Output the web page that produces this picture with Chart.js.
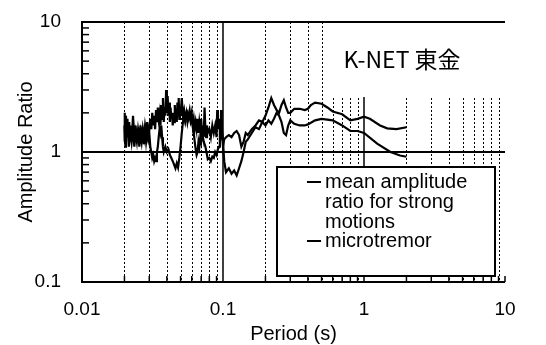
<!DOCTYPE html>
<html>
<head>
<meta charset="utf-8">
<script src="https://cdn.jsdelivr.net/npm/chart.js@4/dist/chart.umd.min.js"></script>
<style>
    html, body { margin: 0; padding: 0; background: #fff; }
</style>
</head>
<body>
<canvas id="chart" width="546" height="345"></canvas>
<script>
// Periodo (s) y cociente de amplitud.
const periodStrong = [
    0.0200, 0.0201, 0.0203, 0.0205, 0.0207, 0.0210, 0.0213, 0.0216, 0.0220, 0.0223,
    0.0227, 0.0230, 0.0235, 0.0240, 0.0245, 0.0250, 0.0255, 0.0260, 0.0265, 0.0270,
    0.0275, 0.0280, 0.0285, 0.0290, 0.0295, 0.0300, 0.0305, 0.0310, 0.0315, 0.0320,
    0.0325, 0.0330, 0.0335, 0.0340, 0.0345, 0.0350, 0.0355, 0.0360, 0.0365, 0.0370,
    0.0375, 0.0380, 0.0385, 0.0390, 0.0395, 0.0400, 0.0405, 0.0410, 0.0415, 0.0420,
    0.0425, 0.0430, 0.0435, 0.0440, 0.0445, 0.0450, 0.0455, 0.0460, 0.0465, 0.0470,
    0.0475, 0.0480, 0.0485, 0.0490, 0.0495, 0.050, 0.051, 0.052, 0.053, 0.054,
    0.055, 0.056, 0.057, 0.058, 0.059, 0.060, 0.061, 0.062, 0.063, 0.064,
    0.065, 0.066, 0.067, 0.068, 0.069, 0.070, 0.071, 0.072, 0.073, 0.074,
    0.075, 0.076, 0.077, 0.078, 0.080, 0.082, 0.084, 0.086, 0.088, 0.090,
    0.091, 0.092, 0.094, 0.096, 0.098, 0.100, 0.102, 0.105, 0.110, 0.115,
    0.120, 0.125, 0.130, 0.135, 0.140, 0.145, 0.150, 0.160, 0.170, 0.180,
    0.190, 0.200, 0.210, 0.220, 0.230, 0.240, 0.250, 0.260, 0.270, 0.280,
    0.290, 0.300, 0.320, 0.350, 0.380, 0.400, 0.420, 0.450, 0.500, 0.550,
    0.600, 0.700, 0.800, 0.900, 1.000, 1.100, 1.300, 1.460, 1.700, 2.000];
const ampStrong = [
    1.2, 2.0, 1.1, 1.9, 1.4, 1.8, 1.3, 1.7, 1.2, 1.6,
    1.4, 1.9, 1.3, 1.6, 1.2, 1.5, 1.3, 1.6, 1.2, 1.5,
    1.3, 1.6, 1.4, 1.7, 1.3, 1.5, 1.8, 1.5, 2.0, 1.6,
    1.9, 1.5, 2.1, 1.7, 2.2, 1.8, 2.0, 1.6, 2.3, 1.8,
    2.6, 1.7, 2.2, 1.9, 3.0, 2.0, 2.7, 1.9, 2.4, 1.7,
    2.2, 1.8, 2.0, 1.6, 1.9, 1.7, 2.3, 1.8, 2.1, 1.7,
    2.4, 1.9, 2.6, 1.8, 2.2, 1.9, 2.6, 1.9, 2.1, 1.8,
    2.0, 1.7, 1.9, 2.1, 1.8, 2.0, 1.6, 1.8, 1.5, 1.7,
    1.5, 1.8, 1.4, 1.7, 1.5, 1.8, 1.4, 1.6, 1.3, 2.2,
    1.5, 1.3, 1.6, 1.4, 1.5, 1.3, 1.6, 1.4, 1.6, 1.3,
    2.1, 1.5, 1.8, 1.3, 1.5, 1.1, 1.25, 1.3, 1.35, 1.3,
    1.4, 1.45, 1.35, 1.1, 1.2, 1.4, 1.35, 1.5, 1.6, 1.75,
    1.7, 1.9, 2.2, 2.6, 2.3, 2.1, 2.0, 2.3, 2.5, 2.2,
    2.0, 2.0, 2.15, 2.15, 2.1, 2.15, 2.3, 2.4, 2.35, 2.2,
    2.05, 1.95, 1.75, 1.8, 1.87, 1.8, 1.6, 1.52, 1.5, 1.55];

const periodMicro = [
    0.0200, 0.0202, 0.0204, 0.0206, 0.0210, 0.0215, 0.0220, 0.0225, 0.0230, 0.0235,
    0.0240, 0.0245, 0.0250, 0.0255, 0.0260, 0.0265, 0.0270, 0.0275, 0.0280, 0.0285,
    0.0290, 0.0295, 0.0300, 0.0305, 0.0310, 0.0315, 0.0320, 0.0325, 0.0330, 0.0335,
    0.0340, 0.0345, 0.0350, 0.0355, 0.0360, 0.0365, 0.0370, 0.0375, 0.0380, 0.0390,
    0.040, 0.041, 0.042, 0.043, 0.044, 0.045, 0.046, 0.047, 0.048, 0.049,
    0.050, 0.051, 0.052, 0.053, 0.054, 0.055, 0.056, 0.057, 0.058, 0.059,
    0.060, 0.061, 0.062, 0.063, 0.064, 0.065, 0.066, 0.067, 0.068, 0.069,
    0.070, 0.071, 0.072, 0.073, 0.075, 0.077, 0.078, 0.080, 0.082, 0.084,
    0.086, 0.088, 0.090, 0.092, 0.094, 0.095, 0.096, 0.097, 0.098, 0.100,
    0.102, 0.105, 0.110, 0.115, 0.120, 0.125, 0.130, 0.135, 0.140, 0.145,
    0.150, 0.160, 0.170, 0.180, 0.190, 0.200, 0.210, 0.220, 0.230, 0.240,
    0.250, 0.260, 0.270, 0.280, 0.290, 0.300, 0.320, 0.350, 0.380, 0.400,
    0.450, 0.500, 0.600, 0.700, 0.800, 0.900, 1.000, 1.240, 1.540, 1.800,
    2.000];
const ampMicro = [
    1.6, 1.2, 1.9, 1.3, 1.6, 1.1, 1.5, 1.2, 1.5, 1.1,
    1.4, 1.2, 1.5, 1.1, 1.4, 1.2, 1.45, 1.15, 1.5, 1.2,
    1.4, 1.25, 1.4, 1.1, 1.0, 0.9, 0.95, 0.85, 0.9, 0.85,
    1.0, 1.1, 1.3, 1.5, 1.4, 1.6, 1.3, 1.1, 1.0, 1.1,
    1.0, 1.05, 0.95, 0.9, 0.85, 0.8, 0.75, 0.82, 0.76, 0.9,
    1.1, 1.4, 1.7, 1.9, 1.7, 1.9, 2.0, 1.8, 1.9, 1.7,
    1.8, 1.6, 1.4, 1.2, 1.05, 0.95, 1.0, 1.2, 1.1, 1.3,
    1.2, 1.4, 1.3, 1.2, 1.1, 0.95, 0.88, 0.9, 0.85, 0.92,
    0.9, 1.0, 0.95, 1.05, 1.1, 1.5, 1.3, 2.1, 1.5, 1.2,
    0.85, 0.7, 0.75, 0.68, 0.72, 0.66, 0.75, 0.85, 1.0, 1.2,
    1.25, 1.4, 1.55, 1.5, 1.7, 1.6, 1.75, 1.65, 1.8, 2.0,
    1.9, 1.7, 1.4, 1.35, 1.6, 1.75, 1.65, 1.6, 1.6, 1.63,
    1.75, 1.8, 1.75, 1.6, 1.45, 1.45, 1.4, 1.16, 1.0, 0.94,
    0.92];

// Marcas de los ejes.
const xDecades = [0.01, 0.1, 1, 10];
const xDecadeLabels = ['0.01', '0.1', '1', '10'];
const yDecades = [0.1, 1, 10];
const yDecadeLabels = ['0.1', '1', '10'];
const minorSteps = [2, 3, 4, 5, 6, 7, 8, 9];

const legendLines = ['mean amplitude', 'ratio for strong', 'motions', 'microtremor'];
const stationName = 'K-NET 東金';

const FONT = "'Liberation Sans', Arial, sans-serif";

// Lista de marcas menores entre decadas.
function minors(decades) {
    let out = [];
    for (let i = 0; i < decades.length - 1; i++) {
        minorSteps.forEach(m => out.push(decades[i] * m));
    }
    return out;
}
function allTicks(decades) {
    return minors(decades).concat(decades).sort((a, b) => a - b);
}

function seg(ctx, x1, y1, x2, y2) {
    ctx.beginPath();
    ctx.moveTo(x1, y1);
    ctx.lineTo(x2, y2);
    ctx.stroke();
}

// Plugin para la rejilla, los ejes con marcas hacia dentro, la leyenda y el nombre de la estacion.
const frame = {
    id: 'frame',
    beforeDatasetsDraw(chart) {
        const ctx = chart.ctx;
        const a = chart.chartArea;
        const x = chart.scales.x;
        const y = chart.scales.y;
        ctx.save();
        ctx.strokeStyle = '#000';
        // lineas punteadas
        ctx.lineWidth = 1;
        ctx.setLineDash([2, 2]);
        minors(xDecades).forEach(v => {
            const px = Math.round(x.getPixelForValue(v)) + 0.5;
            seg(ctx, px, a.top, px, a.bottom);
        });
        ctx.setLineDash([]);
        // decadas interiores
        ctx.lineWidth = 1.5;
        [0.1, 1].forEach(v => {
            const px = x.getPixelForValue(v);
            seg(ctx, px, a.top, px, a.bottom);
        });
        // recuadro blanco del nombre
        ctx.fillStyle = '#fff';
        ctx.fillRect(x.getPixelForValue(0.55), a.top + 1, a.right - x.getPixelForValue(0.55) + 1, 74);
        // linea horizontal en 1
        ctx.lineWidth = 2;
        const py = y.getPixelForValue(1);
        seg(ctx, a.left, py, a.right, py);
        ctx.restore();
    },
    afterDatasetsDraw(chart) {
        const ctx = chart.ctx;
        const a = chart.chartArea;
        const x = chart.scales.x;
        const y = chart.scales.y;
        ctx.save();
        ctx.strokeStyle = '#000';

        // leyenda
        const lx = 277, ly = 167, lw = 218, lh = 109;
        ctx.fillStyle = '#fff';
        ctx.fillRect(lx, ly, lw, lh);
        ctx.lineWidth = 2;
        ctx.strokeRect(lx, ly, lw, lh);
        ctx.fillStyle = '#000';
        ctx.font = '20px ' + FONT;
        ctx.textBaseline = 'alphabetic';
        ctx.textAlign = 'left';
        const baselines = [188, 208, 228, 247];
        legendLines.forEach((t, i) => ctx.fillText(t, 325, baselines[i]));
        seg(ctx, 307, 182, 321, 182);
        seg(ctx, 307, 241, 321, 241);

        // nombre de la estacion
        ctx.font = "23px 'Noto Sans CJK JP', sans-serif";
        ctx.textAlign = 'center';
        ctx.textBaseline = 'middle';
        ctx.fillText(stationName, 402, 59);

        // ejes
        ctx.lineWidth = 2;
        seg(ctx, a.left, a.top, a.right, a.top);
        seg(ctx, a.left, a.top - 1, a.left, a.bottom + 1);
        seg(ctx, a.left - 1, a.bottom, a.right, a.bottom);
        ctx.lineWidth = 1.5;
        minors(yDecades).forEach(v => {
            const py = y.getPixelForValue(v);
            seg(ctx, a.left, py, a.left + 7, py);
        });
        minors(xDecades).concat([10]).forEach(v => {
            const px = x.getPixelForValue(v);
            seg(ctx, px, a.bottom, px, a.bottom - 6);
        });
        ctx.restore();
    }
};

const ctx = document.getElementById('chart').getContext('2d');
const chart = new Chart(ctx, {
    type: 'line',
    data: {
        datasets: [{
            label: 'mean amplitude ratio for strong motions',
            data: periodStrong.map((t, i) => ({ x: t, y: ampStrong[i] })),
            borderColor: '#000',
            borderWidth: 2.2,
            pointRadius: 0,
            tension: 0,
            fill: false
        }, {
            label: 'microtremor',
            data: periodMicro.map((t, i) => ({ x: t, y: ampMicro[i] })),
            borderColor: '#000',
            borderWidth: 2.2,
            pointRadius: 0,
            tension: 0,
            fill: false
        }]
    },
    options: {
        responsive: false,
        animation: false,
        devicePixelRatio: 1,
        layout: { padding: { top: 22, right: 41, left: 0, bottom: 0 } },
        plugins: { legend: { display: false }, tooltip: { enabled: false } },
        scales: {
            x: {
                type: 'logarithmic',
                min: 0.01,
                max: 10,
                afterBuildTicks: s => { s.ticks = allTicks(xDecades).map(v => ({ value: v })); },
                afterFit: s => { s.height = 63; },
                grid: { display: false, drawTicks: false },
                border: { display: false },
                ticks: {
                    autoSkip: false,
                    maxRotation: 0,
                    padding: 16,
                    color: '#000',
                    font: { family: FONT, size: 19, lineHeight: 1.2 },
                    callback: v => { const i = xDecades.indexOf(v); return i < 0 ? '' : xDecadeLabels[i]; }
                },
                title: {
                    display: true,
                    text: 'Period (s)',
                    color: '#000',
                    font: { family: FONT, size: 20, lineHeight: 1.1 },
                    padding: { top: 0, bottom: 0 }
                }
            },
            y: {
                type: 'logarithmic',
                min: 0.1,
                max: 10,
                afterBuildTicks: s => { s.ticks = allTicks(yDecades).map(v => ({ value: v })); },
                afterFit: s => { s.width = 82; s.paddingTop = 0; s.paddingBottom = 0; },
                grid: { display: false, drawTicks: false },
                border: { display: false },
                ticks: {
                    autoSkip: false,
                    padding: 21,
                    color: '#000',
                    font: { family: FONT, size: 19, lineHeight: 1.2 },
                    callback: v => { const i = yDecades.indexOf(v); return i < 0 ? '' : yDecadeLabels[i]; }
                },
                title: {
                    display: true,
                    text: 'Amplitude Ratio',
                    color: '#000',
                    font: { family: FONT, size: 20, lineHeight: 1.2 },
                    padding: { top: 14, bottom: 0 }
                }
            }
        }
    },
    plugins: [frame]
});
</script>
</body>
</html>
